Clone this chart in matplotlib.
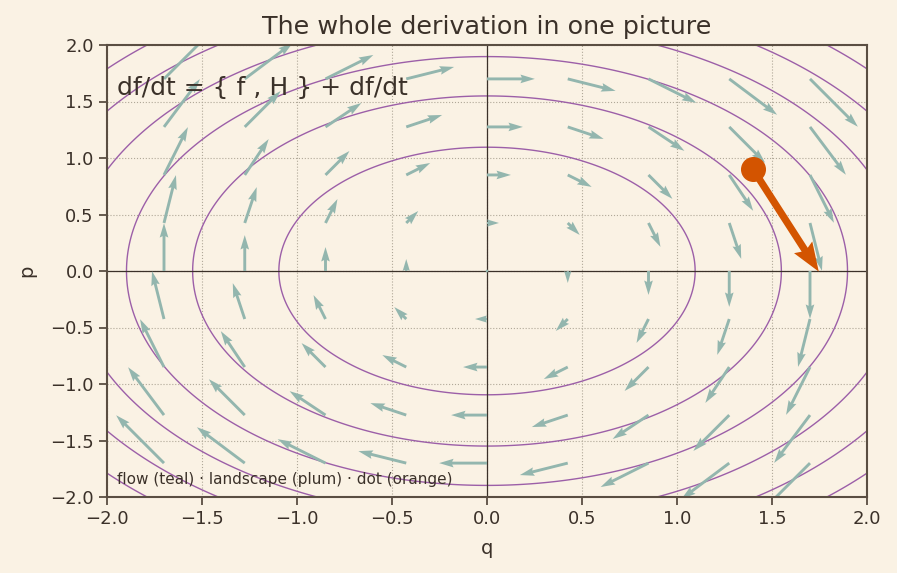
import numpy as np
import matplotlib.pyplot as plt

# phase-space grid for the flow field
q_grid = np.linspace(-1.7, 1.7, 9)
p_grid = np.linspace(-1.7, 1.7, 9)
# energy levels H = (q^2 + p^2) / 2
levels = [0.6, 1.2, 1.8, 2.4, 3.0, 3.6]
# the dot and where it sits
dot_q, dot_p = 1.4, 0.9

bg = '#faf2e4'
ink = '#3b3129'
teal = '#93b6ae'
plum = '#9c5fa8'
orange = '#d35400'

plt.rcParams['font.family'] = ['DejaVu Sans']
fig = plt.figure(figsize=(8.97, 5.73), dpi=100, facecolor=bg)
ax = fig.add_axes([107 / 897, 76 / 573, 760 / 897, 452 / 573])
ax.set_facecolor(bg)

Q, P = np.meshgrid(q_grid, p_grid)
ax.quiver(Q, P, P, -Q, color=teal, scale=27, scale_units='width',
          width=0.0038, zorder=2)

qq, pp = np.meshgrid(np.linspace(-2, 2, 400), np.linspace(-2, 2, 400))
ax.contour(qq, pp, (qq**2 + pp**2) / 2, levels=levels, colors=plum,
           linewidths=1.0, zorder=1)

ax.axhline(0, color=ink, lw=0.9, zorder=1.5)
ax.axvline(0, color=ink, lw=0.9, zorder=1.5)

ax.quiver([dot_q], [dot_p], [dot_p], [-dot_q], color=orange, scale=10.4,
          scale_units='width', width=0.0095, headwidth=3, headlength=4,
          headaxislength=3.6, zorder=4)
ax.plot(dot_q, dot_p, 'o', color=orange, ms=17, zorder=5)

ax.set_xlim(-2, 2)
ax.set_ylim(-2, 2)
ax.set_xticks(np.arange(-2, 2.01, 0.5))
ax.set_yticks(np.arange(-2, 2.01, 0.5))
ax.grid(True, ls=':', color='#b0a898', lw=0.8)
ax.set_axisbelow(True)
for s in ax.spines.values():
    s.set_color('#5a4e42')
    s.set_linewidth(1.5)
ax.tick_params(colors='#5a4e42', labelcolor=ink, labelsize=13, length=6, width=1.3)
ax.set_xlabel('q', color=ink, fontsize=14, labelpad=8)
ax.set_ylabel('p', color=ink, fontsize=14, labelpad=10)
ax.set_title('The whole derivation in one picture', color=ink, fontsize=18.3, pad=8)

ax.text(0.013, 0.905, 'df/dt = { f , H } + df/dt', transform=ax.transAxes,
        fontsize=18, color=ink, va='center')
ax.text(0.013, 0.022, 'flow (teal) · landscape (plum) · dot (orange)',
        transform=ax.transAxes, fontsize=11, color=ink, va='bottom')

fig.savefig('out.png', facecolor=bg)
